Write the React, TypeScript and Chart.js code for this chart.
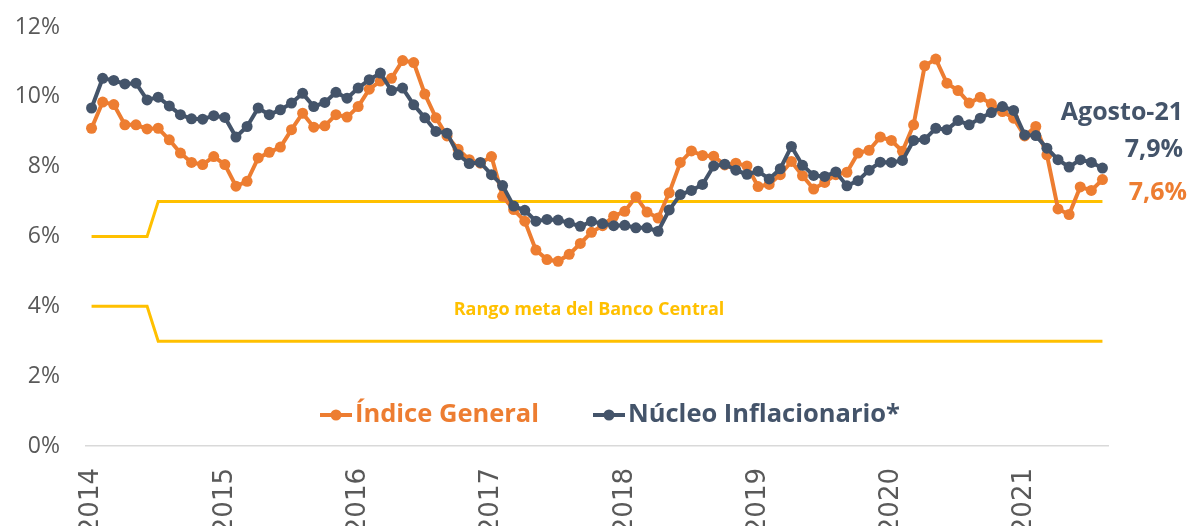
import React, { useEffect, useRef } from 'react';
import { Chart, registerables } from 'chart.js';

Chart.register(...registerables);

const YEARS = ['2014', '2015', '2016', '2017', '2018', '2019', '2020', '2021'];
const MONTHS = ['Ene', 'Feb', 'Mar', 'Abr', 'May', 'Jun', 'Jul', 'Ago', 'Sep', 'Oct', 'Nov', 'Dic'];
const CATEGORIES = YEARS.flatMap((y) => MONTHS.map((m) => `${m}-${y.slice(2)}`)).slice(0, 92);

const INDICE_GENERAL = [
  9.10, 9.85, 9.78, 9.20, 9.20, 9.08, 9.10, 8.77, 8.39, 8.12, 8.06, 8.29,
  8.06, 7.44, 7.58, 8.25, 8.41, 8.56, 9.06, 9.53, 9.13, 9.17, 9.49, 9.42,
  9.72, 10.22, 10.45, 10.53, 11.04, 10.98, 10.08, 9.40, 8.88, 8.50, 8.20, 8.10,
  8.29, 7.15, 6.77, 6.44, 5.61, 5.34, 5.29, 5.49, 5.80, 6.12, 6.31, 6.58,
  6.72, 7.14, 6.70, 6.53, 7.25, 8.12, 8.45, 8.32, 8.30, 8.05, 8.10, 8.02,
  7.43, 7.49, 7.77, 8.15, 7.74, 7.36, 7.55, 7.77, 7.84, 8.39, 8.47, 8.85,
  8.75, 8.44, 9.20, 10.89, 11.08, 10.39, 10.18, 9.82, 9.99, 9.80, 9.58, 9.39,
  8.88, 9.15, 8.34, 6.79, 6.63, 7.42, 7.32, 7.63,
];

const NUCLEO_INFLACIONARIO = [
  9.68, 10.53, 10.47, 10.37, 10.39, 9.91, 9.99, 9.74, 9.49, 9.37, 9.36, 9.46,
  9.41, 8.85, 9.15, 9.68, 9.49, 9.63, 9.82, 10.10, 9.72, 9.84, 10.13, 9.96,
  10.25, 10.49, 10.68, 10.18, 10.25, 9.77, 9.40, 9.01, 8.96, 8.34, 8.09, 8.12,
  7.77, 7.46, 6.87, 6.75, 6.44, 6.49, 6.47, 6.39, 6.29, 6.43, 6.37, 6.31,
  6.32, 6.25, 6.25, 6.15, 6.76, 7.20, 7.32, 7.49, 8.02, 8.07, 7.90, 7.78,
  7.87, 7.65, 7.94, 8.58, 8.04, 7.75, 7.72, 7.85, 7.45, 7.60, 7.90, 8.13,
  8.12, 8.18, 8.75, 8.78, 9.10, 9.06, 9.32, 9.20, 9.39, 9.55, 9.72, 9.61,
  8.91, 8.89, 8.53, 8.20, 7.99, 8.20, 8.12, 7.96,
];

const META_SUPERIOR = [
  { x: 'Ene-14', y: 6 },
  { x: 'Jun-14', y: 6 },
  { x: 'Jul-14', y: 7 },
  { x: 'Ago-21', y: 7 },
];
const META_INFERIOR = [
  { x: 'Ene-14', y: 4 },
  { x: 'Jun-14', y: 4 },
  { x: 'Jul-14', y: 3 },
  { x: 'Ago-21', y: 3 },
];

const SERIES_NAMES = ['Índice General', 'Núcleo Inflacionario*'];
const ANNOTATION_TEXTS = ['Agosto-21', '7,9%', '7,6%', 'Rango meta del Banco Central'];

const ORANGE = '#ED7D31';
const NAVY = '#44546A';
const GOLD = '#FFC000';
const GREY = '#595959';

const overlayPlugin = {
  id: 'overlay',
  afterDraw(chart: any) {
    const { ctx } = chart;
    ctx.save();
    // Legend
    const ly = 415;
    const items = [
      { x: 320, color: ORANGE, text: SERIES_NAMES[0] },
      { x: 593, color: NAVY, text: SERIES_NAMES[1] },
    ];
    ctx.font = 'bold 25.5px "Open Sans"';
    ctx.textBaseline = 'middle';
    ctx.textAlign = 'left';
    for (const it of items) {
      ctx.strokeStyle = it.color;
      ctx.lineWidth = 4;
      ctx.beginPath();
      ctx.moveTo(it.x, ly);
      ctx.lineTo(it.x + 32, ly);
      ctx.stroke();
      ctx.fillStyle = it.color;
      ctx.beginPath();
      ctx.arc(it.x + 16, ly, 5.5, 0, Math.PI * 2);
      ctx.fill();
      ctx.fillText(it.text, it.x + 35, ly);
    }
    // Annotations
    ctx.textAlign = 'right';
    ctx.fillStyle = NAVY;
    ctx.font = 'bold 25px "Open Sans"';
    ctx.fillText(ANNOTATION_TEXTS[0], 1183, 113);
    ctx.fillText(ANNOTATION_TEXTS[1], 1183, 150);
    ctx.fillStyle = ORANGE;
    ctx.fillText(ANNOTATION_TEXTS[2], 1187, 193);
    ctx.textAlign = 'center';
    ctx.fillStyle = GOLD;
    ctx.font = 'bold 18px "Open Sans"';
    ctx.fillText(ANNOTATION_TEXTS[3], 589, 310);
    ctx.restore();
  },
};

export default function App() {
  const ref = useRef<HTMLCanvasElement | null>(null);

  useEffect(() => {
    document.body.style.margin = '0';
    const canvas = ref.current;
    if (!canvas) return;
    const chart = new Chart(canvas, {
      type: 'line',
      data: {
        labels: CATEGORIES,
        datasets: [
          {
            label: SERIES_NAMES[1],
            data: NUCLEO_INFLACIONARIO,
            borderColor: NAVY,
            backgroundColor: NAVY,
            borderWidth: 4,
            pointRadius: 5.5,
            pointBorderWidth: 0,
            pointBackgroundColor: NAVY,
            tension: 0,
            order: 0,
          },
          {
            label: SERIES_NAMES[0],
            data: INDICE_GENERAL,
            borderColor: ORANGE,
            backgroundColor: ORANGE,
            borderWidth: 4,
            pointRadius: 5.5,
            pointBorderWidth: 0,
            pointBackgroundColor: ORANGE,
            tension: 0,
            order: 1,
          },
          {
            label: 'Meta superior',
            data: META_SUPERIOR as any,
            borderColor: GOLD,
            borderWidth: 3,
            pointRadius: 0,
            tension: 0,
            order: 2,
          },
          {
            label: 'Meta inferior',
            data: META_INFERIOR as any,
            borderColor: GOLD,
            borderWidth: 3,
            pointRadius: 0,
            tension: 0,
            order: 2,
          },
        ],
      },
      options: {
        responsive: false,
        animation: false,
        layout: { padding: { top: 27, right: 79, left: 0, bottom: 0 } },
        plugins: {
          legend: { display: false },
          tooltip: { enabled: false },
        },
        scales: {
          x: {
            type: 'category',
            offset: true,
            grid: { display: false, drawTicks: false },
            border: { display: true, color: '#D9D9D9', width: 1.5 },
            ticks: {
              autoSkip: false,
              minRotation: 90,
              maxRotation: 90,
              padding: 22,
              color: GREY,
              font: { family: '"DejaVu Sans"', size: 26 },
              callback: (_v: any, i: number) => (i % 12 === 0 ? YEARS[i / 12] : ''),
            },
            afterFit: (s: any) => {
              s.height = 80;
            },
          },
          y: {
            min: 0,
            max: 12,
            grid: {
              display: true,
              drawOnChartArea: false,
              drawTicks: true,
              tickLength: 26,
              color: 'rgba(0,0,0,0)',
            },
            border: { display: false },
            ticks: {
              stepSize: 2,
              padding: 0,
              color: GREY,
              font: { family: '"Open Sans"', size: 23 },
              callback: (v: any) => `${v}%`,
            },
            afterFit: (s: any) => {
              s.width = 86;
            },
          },
        },
      },
      plugins: [overlayPlugin],
    });
    return () => chart.destroy();
  }, []);

  return (
    <div style={{ width: 1187, height: 526 }}>
      <canvas ref={ref} width={1187} height={526} style={{ width: 1187, height: 526, display: 'block' }} />
    </div>
  );
}
